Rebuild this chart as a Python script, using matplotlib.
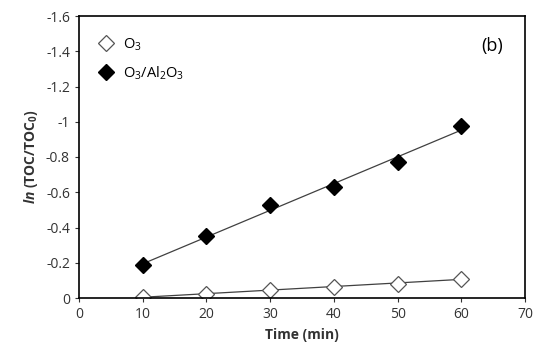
import numpy as np
import matplotlib
matplotlib.use("Agg")
import matplotlib.pyplot as plt

time_min = [10, 20, 30, 40, 50, 60]
o3 = [-0.005, -0.025, -0.045, -0.065, -0.08, -0.11]
o3_al2o3 = [-0.185, -0.35, -0.53, -0.63, -0.77, -0.975]

y_ticks = [0, -0.2, -0.4, -0.6, -0.8, -1, -1.2, -1.4, -1.6]
y_labels = ["0", "-0.2", "-0.4", "-0.6", "-0.8", "-1", "-1.2", "-1.4", "-1.6"]
x_ticks = [0, 10, 20, 30, 40, 50, 60, 70]

plt.rcParams['font.family'] = ['Open Sans', 'DejaVu Sans']
plt.rcParams['mathtext.fontset'] = 'custom'
plt.rcParams['mathtext.rm'] = 'Open Sans'
plt.rcParams['mathtext.it'] = 'Open Sans:italic'
plt.rcParams['mathtext.bf'] = 'Open Sans:bold'
plt.rcParams['mathtext.bfit'] = 'Open Sans:bold:italic'

fig = plt.figure(figsize=(5.33, 3.46), dpi=100)
ax = fig.add_axes([79 / 533, 48 / 346, 446 / 533, 282 / 346])

x = np.array(time_min)
for vals in (o3, o3_al2o3):
    k, b = np.polyfit(x, vals, 1)
    ax.plot([x[0], x[-1]], [k * x[0] + b, k * x[-1] + b], color='#404040', lw=0.9, zorder=1)

ax.plot(time_min, o3, ls='none', marker='D', ms=8, mfc='white', mec='#555555', mew=0.9,
        label='O$_3$', zorder=2)
ax.plot(time_min, o3_al2o3, ls='none', marker='D', ms=8, mfc='black', mec='black',
        label='O$_3$/Al$_2$O$_3$', zorder=2)

ax.set_xlim(0, 70)
ax.set_ylim(0, -1.6)
ax.set_xticks(x_ticks)
ax.set_yticks(y_ticks)
ax.set_yticklabels(y_labels)
ax.tick_params(direction='out', length=3, width=0.8, labelsize=10, colors='#333333')
for s in ax.spines.values():
    s.set_linewidth(1.2)

ax.set_xlabel('Time (min)', fontsize=10, fontweight='bold', color='#333333')
ax.set_ylabel(r'$\mathbfit{ln}$ (TOC/TOC$_\mathbf{0}$)', fontsize=10, fontweight='bold',
              color='#333333')

ax.legend(loc='upper left', bbox_to_anchor=(-0.018, 1.0), frameon=False, fontsize=10.5,
          handletextpad=0.2, borderaxespad=1.0, labelspacing=0.8)
ax.text(0.95, 0.895, '(b)', transform=ax.transAxes, ha='right', va='center', fontsize=13)

fig.savefig('out.png', dpi=100)
